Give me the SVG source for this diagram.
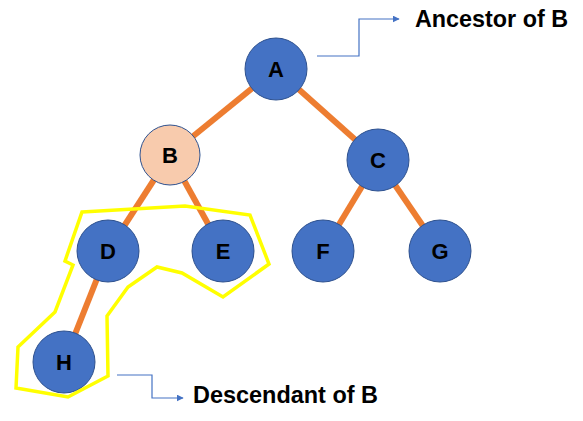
<svg xmlns="http://www.w3.org/2000/svg" width="583" height="421" viewBox="0 0 583 421">
<defs>
<style>
.edge{stroke:#ED7D31;stroke-width:6;fill:none}
.node circle{fill:#4472C4;stroke:#2F528F;stroke-width:1}
.node text{font-family:"Liberation Sans",Arial,sans-serif;font-weight:bold;font-size:22px;fill:#000;text-anchor:middle}
.call{stroke:#4472C4;stroke-width:1.2;fill:none}
.lbl{font-family:"Liberation Sans",Arial,sans-serif;font-weight:bold;font-size:23px;fill:#000}
</style>
<marker id="arr" viewBox="0 0 10 10" refX="9" refY="5" markerWidth="7" markerHeight="7" markerUnits="userSpaceOnUse" orient="auto">
<path d="M0,0 L10,5 L0,10 z" fill="#4472C4"/>
</marker>
</defs>
<g id="connectors">
<line class="edge" x1="276" y1="69" x2="170" y2="155"/>
<line class="edge" x1="276" y1="69" x2="378" y2="160"/>
<line class="edge" x1="170" y1="155" x2="108" y2="251"/>
<line class="edge" x1="170" y1="155" x2="223" y2="251"/>
<line class="edge" x1="378" y1="160" x2="323" y2="251"/>
<line class="edge" x1="378" y1="160" x2="440" y2="251"/>
<line class="edge" x1="108" y1="251" x2="64" y2="362"/>
<polyline class="call" points="317,56 359,56 359,19 399,19" marker-end="url(#arr)"/>
<polyline class="call" points="117,375 152,375 152,398 183,398" marker-end="url(#arr)"/>
</g>
<g id="node-A" class="node"><circle cx="276" cy="69" r="31"/><text x="276" y="77">A</text></g>
<g id="node-B" class="node"><circle cx="170" cy="155" r="30" style="fill:#F8CBAD"/><text x="170" y="163">B</text></g>
<g id="node-C" class="node"><circle cx="378" cy="160" r="31"/><text x="378" y="168">C</text></g>
<g id="node-D" class="node"><circle cx="108" cy="251" r="31"/><text x="108" y="259">D</text></g>
<g id="node-E" class="node"><circle cx="223" cy="251" r="31"/><text x="223" y="259">E</text></g>
<g id="node-F" class="node"><circle cx="323" cy="251" r="31"/><text x="323" y="259">F</text></g>
<g id="node-G" class="node"><circle cx="440" cy="251" r="31"/><text x="440" y="259">G</text></g>
<g id="node-H" class="node"><circle cx="64" cy="362" r="31"/><text x="64" y="370">H</text></g>
<g id="highlight">
<polygon points="82,212 185,206 250,215 269,264 223,297 182,273 157,267 128,287 107,316 108,376 68,397 16,388 18,347 55,312 73,265 65,261" fill="none" stroke="#FFFF00" stroke-width="3.5" stroke-linejoin="miter"/>
</g>
<g id="labels">
<text class="lbl" x="415" y="27" textLength="153" lengthAdjust="spacingAndGlyphs">Ancestor of B</text>
<text class="lbl" x="193" y="403" textLength="185" lengthAdjust="spacingAndGlyphs">Descendant of B</text>
</g>
</svg>
